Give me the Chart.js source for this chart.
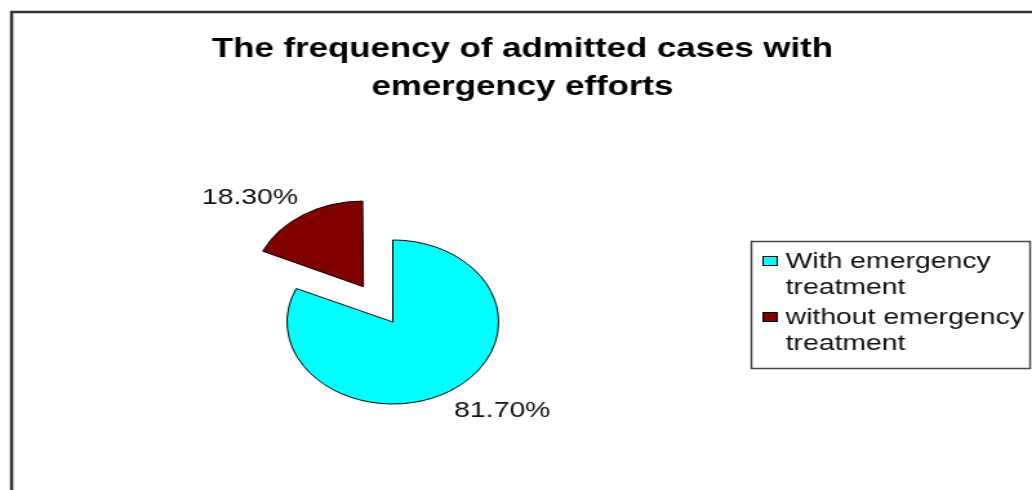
<!DOCTYPE html>
<html>
<head>
<meta charset="utf-8">
<title>Admitted cases with emergency efforts</title>
<script src="https://cdn.jsdelivr.net/npm/chart.js@4.4.1/dist/chart.umd.min.js"></script>
<style>
    html, body { margin: 0; padding: 0; background: #fff; overflow: hidden; }
    #chartCanvas {
        display: block;
        width: 800px;
        height: 490px;
        transform: scaleX(1.29);
        transform-origin: 0 0;
    }
</style>
</head>
<body>
<canvas id="chartCanvas" width="800" height="490"></canvas>
<script>
// Chart data
const categories = ['With emergency treatment', 'without emergency treatment'];
const legendLines = [['With emergency', 'treatment'], ['without emergency', 'treatment']];
const percentages = [81.7, 18.3];
const titleLines = ['The frequency of admitted cases with', 'emergency efforts'];

const sliceColors = ['#00ffff', '#800000'];
const FONT = '"Liberation Sans", Arial, sans-serif';

// Frame around the whole chart (only left and top edges are inside the canvas)
const framePlugin = {
    id: 'frame',
    beforeDraw(chart) {
        const ctx = chart.ctx;
        ctx.save();
        ctx.fillStyle = '#fff';
        ctx.fillRect(0, 0, chart.width, chart.height);
        ctx.strokeStyle = '#333';
        ctx.lineWidth = 2.5;
        ctx.strokeRect(9, 12, chart.width + 20, chart.height + 20);
        ctx.restore();
    }
};

// Two line bold title
const titlePlugin = {
    id: 'twoLineTitle',
    afterDraw(chart) {
        const ctx = chart.ctx;
        ctx.save();
        ctx.font = 'bold 27px ' + FONT;
        ctx.fillStyle = '#000';
        ctx.textAlign = 'center';
        ctx.textBaseline = 'alphabetic';
        titleLines.forEach((line, i) => {
            ctx.fillText(line, 405, 57 + i * 38);
        });
        ctx.restore();
    }
};

// Percentage labels just outside each slice
const sliceLabelPlugin = {
    id: 'sliceLabels',
    afterDatasetsDraw(chart) {
        const ctx = chart.ctx;
        const meta = chart.getDatasetMeta(0);
        ctx.save();
        ctx.font = '22px ' + FONT;
        ctx.fillStyle = '#111';
        meta.data.forEach((arc, i) => {
            const p = arc.getProps(['x', 'y', 'startAngle', 'endAngle', 'outerRadius'], true);
            const mid = (p.startAngle + p.endAngle) / 2;
            const shift = (arc.options.offset || 0) / 4;
            const dist = p.outerRadius + shift + 11;
            const right = Math.cos(mid) >= 0;
            const x = p.x + Math.cos(mid) * dist + (right ? -3 : 0);
            const y = p.y + Math.sin(mid) * dist;
            ctx.textAlign = right ? 'left' : 'right';
            ctx.textBaseline = Math.sin(mid) >= 0 ? 'top' : 'bottom';
            ctx.fillText(percentages[i].toFixed(2) + '%', x, y);
        });
        ctx.restore();
    }
};

// Boxed legend with wrapped labels
const boxLegendPlugin = {
    id: 'boxLegend',
    afterDraw(chart) {
        const ctx = chart.ctx;
        const colors = chart.data.datasets[0].backgroundColor;
        ctx.save();
        ctx.strokeStyle = '#444';
        ctx.lineWidth = 1.5;
        ctx.strokeRect(582.5, 241.5, 216, 127);
        ctx.font = '22px ' + FONT;
        ctx.textAlign = 'left';
        ctx.textBaseline = 'alphabetic';
        const itemTop = [268, 324];
        legendLines.forEach((lines, i) => {
            const base = itemTop[i];
            ctx.fillStyle = colors[i];
            ctx.fillRect(591, base - 12, 12, 10);
            ctx.strokeStyle = '#000';
            ctx.lineWidth = 1;
            ctx.strokeRect(591.5, base - 11.5, 11, 9);
            ctx.fillStyle = '#111';
            lines.forEach((line, j) => {
                ctx.fillText(line, 609, base + j * 26);
            });
        });
        ctx.restore();
    }
};

const ctx = document.getElementById('chartCanvas').getContext('2d');
const pieChart = new Chart(ctx, {
    type: 'pie',
    data: {
        labels: categories,
        datasets: [
            {
                data: percentages,
                backgroundColor: sliceColors,
                borderColor: '#000',
                borderWidth: 1,
                offset: [0, 168]
            }
        ]
    },
    options: {
        responsive: false,
        animation: false,
        radius: 82,
        layout: {
            padding: { left: 200, right: 391, top: 200, bottom: 46 }
        },
        plugins: {
            legend: { display: false },
            title: { display: false },
            tooltip: { enabled: false }
        }
    },
    plugins: [framePlugin, titlePlugin, sliceLabelPlugin, boxLegendPlugin]
});
</script>
</body>
</html>
